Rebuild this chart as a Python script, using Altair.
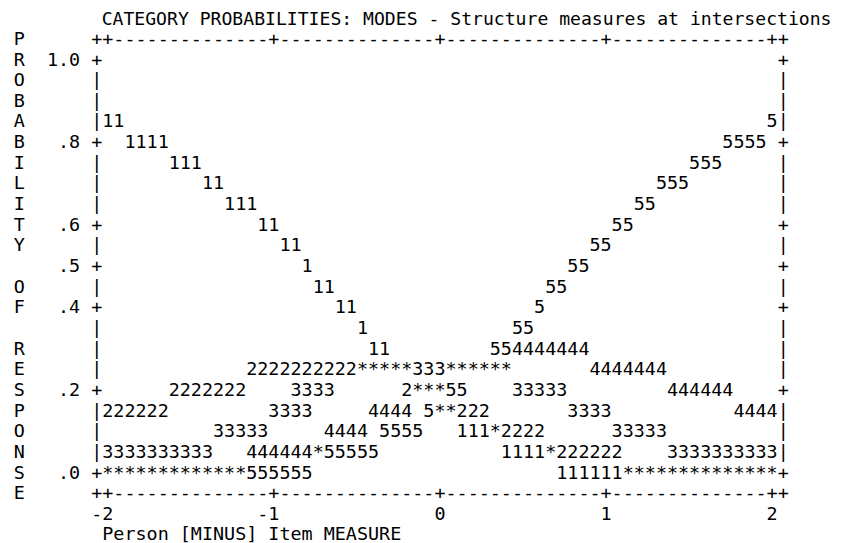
import altair as alt
import pandas as pd

# ---- content of the Winsteps-style text plot ----
title_text = "CATEGORY PROBABILITIES: MODES - Structure measures at intersections"
side_letters = "PROBABILITY OF RESPONSE"          # one letter per plot row (rows 1..23)
y_labels = ["1.0", "", "", "", ".8", "", "", "", ".6", "", ".5", "",
            ".4", "", "", "", ".2", "", "", "", ".0"]
x_tick_labels = ["-2", "-1", "0", "1", "2"]
x_label = "Person [MINUS] Item MEASURE"

# curve characters inside the frame, run-length coded (int = blanks)
curve_rows = [
    [],
    [],
    [],
    ["11", 58, "5"],
    [2, "1111", 50, "5555"],
    [6, "111", 44, "555"],
    [9, "11", 39, "555"],
    [11, "111", 34, "55"],
    [14, "11", 30, "55"],
    [16, "11", 26, "55"],
    [18, "1", 23, "55"],
    [19, "11", 19, "55"],
    [21, "11", 16, "5"],
    [23, "1", 13, "55"],
    [24, "11", 9, "554444444"],
    [13, "2222222222*****333******", 7, "4444444"],
    [6, "2222222", 4, "3333", 6, "2***55", 4, "33333", 9, "444444"],
    ["222222", 9, "3333", 5, "4444", 1, "5**222", 7, "3333", 11, "4444"],
    [10, "33333", 5, "4444", 1, "5555", 3, "111*2222", 6, "33333"],
    ["3333333333", 3, "444444*55555", 11, "1111*222222", 4, "3333333333"],
    ["*************555555", 22, "111111**************"],
]

NB = "\u00a0"
ZW = "\u200b"   # zero-width guard so leading blanks are kept
PLOT_W = 61
SEG = 14


def expand(runs):
    s = "".join(" " * r if isinstance(r, int) else r for r in runs)
    return s.ljust(PLOT_W)


def keep(t):
    return ZW + t.replace(" ", NB) + ZW


axis_line = "++" + ("-" * SEG + "+") * 4 + "+"

rows, texts = [], []
rows.append(1)
texts.append(side_letters[0] + " " * 6 + axis_line)
for i, (runs, lab) in enumerate(zip(curve_rows, y_labels)):
    r = i + 2
    edge = "+" if lab else "|"
    rows.append(r)
    texts.append(side_letters[r - 1] + " " + lab.rjust(4) + " " + edge + expand(runs) + edge)
rows.append(23)
texts.append(side_letters[22] + " " * 6 + axis_line)

tick_line = [" "] * 72
for k, lab in enumerate(x_tick_labels):
    end = 8 + (SEG + 1) * k
    for j, ch in enumerate(lab):
        tick_line[end - len(lab) + 1 + j] = ch
rows.append(24)
texts.append("".join(tick_line).rstrip())
rows.append(25)
texts.append(" " * 8 + x_label)

body = pd.DataFrame({"row": rows, "text": [keep(t) for t in texts]})
head = pd.DataFrame({"row": [0], "text": [keep(" " * 8 + title_text)]})

yscale = alt.Scale(domain=[-0.494, 25.414], reverse=True, nice=False, zero=False)

body_layer = alt.Chart(body).mark_text(
    align="left", baseline="middle", font="DejaVu Sans Mono", fontSize=18.4, color="#000000"
).encode(
    x=alt.value(5.7),
    y=alt.Y("row:Q", scale=yscale, axis=None),
    text=alt.Text("text:N"),
)

title_layer = alt.Chart(head).mark_text(
    align="left", baseline="middle", font="DejaVu Sans Mono", fontSize=18.1, color="#000000",
    dy=2,
).encode(
    x=alt.value(6.5),
    y=alt.Y("row:Q", scale=yscale, axis=None),
    text=alt.Text("text:N"),
)

chart = alt.layer(title_layer, body_layer).properties(
    width=828, height=535, padding=0, autosize=alt.AutoSizeParams(type="none"),
    background="#ffffff",
).configure_view(stroke=None)

chart.save("out.html", embed_options={"renderer": "svg", "actions": False})
